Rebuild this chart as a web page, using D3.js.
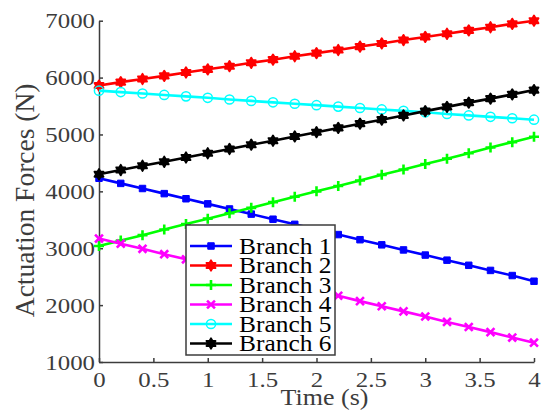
<!DOCTYPE html>
<html lang="en">
<head>
  <meta charset="UTF-8">
  <title>Actuation Forces</title>
  <style>
    body { margin: 0; padding: 0; background: #fff; }
    svg { display: block; font-family: "Liberation Serif", "Times New Roman", Times, serif; }
    .axis path, .axis line { stroke: #3c3c3c; stroke-width: 1.5px; }
    .axis text { font-size: 22px; fill: #3c3c3c; font-family: "Liberation Serif", "Times New Roman", Times, serif; }
    .wide { transform-box: fill-box; transform: scaleX(1.13); }
    .line { fill: none; stroke-width: 2.6px; }
  </style>
</head>
<body>
  <div class="chart"></div>

  <script src="https://d3js.org/d3.v7.min.js"></script>
  <script>
    const time = [0, 0.2, 0.4, 0.6, 0.8, 1.0, 1.2, 1.4, 1.6, 1.8, 2.0, 2.2, 2.4, 2.6, 2.8, 3.0, 3.2, 3.4, 3.6, 3.8, 4.0];
    const branch1 = [4230, 4140, 4050, 3960, 3870, 3780, 3690, 3600, 3510, 3420, 3330, 3240, 3150, 3060, 2970, 2880, 2790, 2700, 2610, 2520, 2420];
    const branch2 = [5860, 5920, 5975, 6030, 6090, 6145, 6200, 6260, 6315, 6375, 6430, 6485, 6545, 6600, 6660, 6715, 6770, 6830, 6885, 6945, 7000];
    const branch3 = [3040, 3135, 3230, 3330, 3425, 3520, 3615, 3710, 3810, 3905, 4000, 4095, 4190, 4290, 4385, 4480, 4575, 4670, 4770, 4865, 4960];
    const branch4 = [3170, 3080, 2990, 2895, 2805, 2715, 2620, 2530, 2440, 2345, 2255, 2165, 2070, 1980, 1890, 1800, 1705, 1615, 1525, 1430, 1340];
    const branch5 = [5770, 5745, 5720, 5695, 5670, 5645, 5615, 5590, 5565, 5540, 5515, 5490, 5465, 5440, 5415, 5390, 5360, 5335, 5310, 5285, 5260];
    const branch6 = [4300, 4375, 4450, 4520, 4595, 4670, 4745, 4820, 4890, 4965, 5040, 5115, 5190, 5260, 5335, 5410, 5485, 5560, 5630, 5705, 5780];

    const seriesNames = ["Branch 1", "Branch 2", "Branch 3", "Branch 4", "Branch 5", "Branch 6"];
    const seriesValues = [branch1, branch2, branch3, branch4, branch5, branch6];
    const colors = ["#0000ff", "#ff0000", "#00ff00", "#ff00ff", "#00ffff", "#000000"];
    const markers = ["square", "hexagram", "plus", "cross", "circle", "hexagram"];

    const xTicks = [0, 0.5, 1, 1.5, 2, 2.5, 3, 3.5, 4];
    const yTicks = [1000, 2000, 3000, 4000, 5000, 6000, 7000];

    const W = 554, H = 413;
    const plot = { left: 99, right: 534, top: 20.7, bottom: 362 };

    const svg = d3.select(".chart")
      .append("svg")
        .attr("width", W)
        .attr("height", H);

    svg.append("rect").attr("width", W).attr("height", H).attr("fill", "#fff");

    // Scales
    const x = d3.scaleLinear().domain([0, 4]).range([plot.left, plot.right]);
    const y = d3.scaleLinear().domain([1000, 7000]).range([plot.bottom, plot.top]);

    // Axes (MATLAB style, ticks inward, box off)
    const xAxis = svg.append("g")
      .attr("class", "axis")
      .attr("transform", `translate(0,${plot.bottom})`)
      .call(d3.axisBottom(x).tickValues(xTicks).tickFormat(d3.format("")).tickSizeInner(-4).tickSizeOuter(0).tickPadding(9));
    xAxis.selectAll("text").attr("class", "wide").style("transform-origin", "center");

    const yAxis = svg.append("g")
      .attr("class", "axis")
      .attr("transform", `translate(${plot.left},0)`)
      .call(d3.axisLeft(y).tickValues(yTicks).tickFormat(d3.format("d")).tickSizeInner(-4).tickSizeOuter(0).tickPadding(4));
    yAxis.selectAll("text").attr("class", "wide").style("transform-origin", "right center");

    // Marker shapes
    const hexagram = {
      draw(ctx, size) {
        const R = Math.sqrt(size) * 0.62, r = R / Math.sqrt(3);
        for (let i = 0; i < 12; i++) {
          const a = -Math.PI / 2 + i * Math.PI / 6;
          const rad = i % 2 === 0 ? R : r;
          if (i === 0) ctx.moveTo(rad * Math.cos(a), rad * Math.sin(a));
          else ctx.lineTo(rad * Math.cos(a), rad * Math.sin(a));
        }
        ctx.closePath();
      }
    };
    const plusShape = {
      draw(ctx, size) {
        const s = Math.sqrt(size) / 2;
        ctx.moveTo(-s, 0); ctx.lineTo(s, 0);
        ctx.moveTo(0, -s); ctx.lineTo(0, s);
      }
    };
    const crossShape = {
      draw(ctx, size) {
        const s = Math.sqrt(size) / 2 * 0.75;
        ctx.moveTo(-s, -s); ctx.lineTo(s, s);
        ctx.moveTo(-s, s); ctx.lineTo(s, -s);
      }
    };

    function drawMarker(g, kind, color) {
      if (kind === "square") {
        g.append("path").attr("d", d3.symbol(d3.symbolSquare, 42)()).attr("fill", color).attr("stroke", color).attr("stroke-width", 1);
      } else if (kind === "hexagram") {
        g.append("path").attr("d", d3.symbol(hexagram, 68)()).attr("fill", color).attr("stroke", color).attr("stroke-width", 2).attr("stroke-linejoin", "round");
      } else if (kind === "plus") {
        g.append("path").attr("d", d3.symbol(plusShape, 100)()).attr("fill", "none").attr("stroke", color).attr("stroke-width", 2.6);
      } else if (kind === "cross") {
        g.append("path").attr("d", d3.symbol(crossShape, 110)()).attr("fill", "none").attr("stroke", color).attr("stroke-width", 2.6);
      } else if (kind === "circle") {
        g.append("circle").attr("r", 4.6).attr("fill", "none").attr("stroke", color).attr("stroke-width", 1.5);
      }
    }

    const line = d3.line()
      .x((d, i) => x(time[i]))
      .y(d => y(d));

    seriesValues.forEach((vals, si) => {
      const g = svg.append("g");
      g.append("path")
        .datum(vals)
        .attr("class", "line")
        .attr("stroke", colors[si])
        .attr("d", line);
      vals.forEach((v, i) => {
        const m = g.append("g").attr("transform", `translate(${x(time[i])},${y(v)})`);
        drawMarker(m, markers[si], colors[si]);
      });
    });

    // Axis labels
    svg.append("text")
      .attr("class", "wide")
      .style("transform-origin", "center")
      .attr("x", (plot.left + plot.right) / 2 + 8)
      .attr("y", 405)
      .attr("text-anchor", "middle")
      .attr("font-size", 23)
      .attr("fill", "#3c3c3c")
      .text("Time (s)");

    svg.append("text")
      .attr("transform", `translate(34,${(plot.top + plot.bottom) / 2 + 9}) rotate(-90)`)
      .attr("text-anchor", "middle")
      .attr("font-size", 27.5)
      .attr("fill", "#3c3c3c")
      .text("Actuation Forces (N)");

    // Legend
    const leg = { x: 186, y: 225, w: 149, h: 130, first: 246, step: 19.5 };
    const legend = svg.append("g");
    legend.append("rect")
      .attr("x", leg.x).attr("y", leg.y)
      .attr("width", leg.w).attr("height", leg.h)
      .attr("fill", "#fff")
      .attr("stroke", "#3c3c3c")
      .attr("stroke-width", 1.5);

    seriesNames.forEach((name, si) => {
      const cy = leg.first + si * leg.step;
      legend.append("line")
        .attr("x1", leg.x + 4).attr("x2", leg.x + 46)
        .attr("y1", cy).attr("y2", cy)
        .attr("stroke", colors[si]).attr("stroke-width", 2.6);
      const m = legend.append("g").attr("transform", `translate(${leg.x + 25},${cy})`);
      drawMarker(m, markers[si], colors[si]);
      legend.append("text")
        .attr("class", "wide")
        .style("transform-origin", "left center")
        .attr("x", leg.x + 53)
        .attr("y", cy + 8)
        .attr("font-size", 22.5)
        .attr("fill", "#000")
        .text(name);
    });
  </script>
</body>
</html>
